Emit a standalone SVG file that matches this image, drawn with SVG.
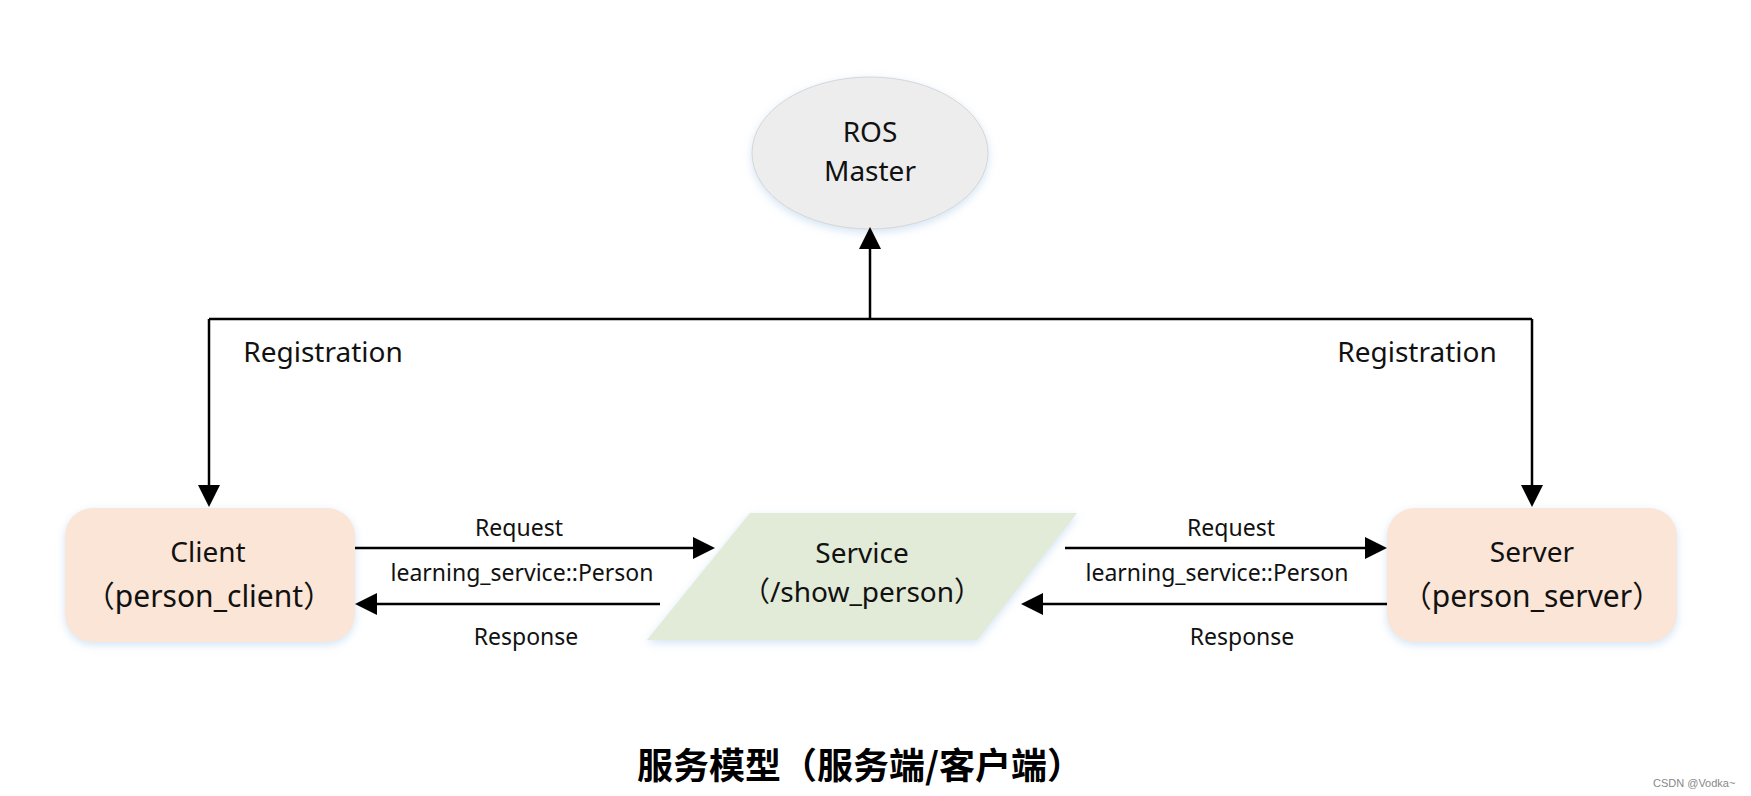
<svg xmlns="http://www.w3.org/2000/svg" width="1751" height="796" viewBox="0 0 1751 796">
<style>
  .lbl { font-family: "Noto Sans", "Open Sans", "Liberation Sans", "Noto Sans CJK SC", sans-serif; fill: #111; text-anchor: middle; }
  .node { font-size: 28px; }
  .node2 { font-size: 30px; }
  .edge { font-size: 23px; }
  .reg { font-size: 28px; }
  .conn { stroke: #000; stroke-width: 2.5; fill: none; }
  .title { font-family: "Noto Sans CJK SC", "Noto Sans", sans-serif; font-weight: bold; font-size: 36px; fill: #000; text-anchor: middle; }
  .wm { font-family: "Liberation Sans", "DejaVu Sans", sans-serif; font-size: 11px; fill: #888; }
</style>
<defs>
  <marker id="arr" viewBox="0 0 22 22" refX="10" refY="11" markerWidth="22" markerHeight="22" markerUnits="userSpaceOnUse" orient="auto">
    <path d="M0,0 L22,11 L0,22 z" fill="#000"/>
  </marker>
  <filter id="sh" x="-10%" y="-10%" width="120%" height="130%">
    <feDropShadow dx="0" dy="3" stdDeviation="4" flood-color="#9DC3E6" flood-opacity="0.45"/>
  </filter>
</defs>
<rect width="1751" height="796" fill="#fff"/>

<g id="master">
  <ellipse cx="870" cy="153" rx="118" ry="76" fill="#EDEDED" stroke="#D6D6D6" stroke-width="1" filter="url(#sh)"/>
  <text class="lbl node" x="870" y="142">ROS</text>
  <text class="lbl node" x="870" y="181">Master</text>
</g>

<g id="client">
  <rect x="65" y="508" width="290" height="134" rx="28" fill="#FBE5D6" filter="url(#sh)"/>
  <text class="lbl node" x="208" y="562">Client</text>
  <text class="lbl node2" x="209" y="607">（person_client）</text>
</g>

<g id="service">
  <polygon points="750,513 1077,513 977,640 647,640" fill="#E2EBD8" filter="url(#sh)"/>
  <text class="lbl node" x="862" y="563">Service</text>
  <text class="lbl node" x="862" y="602">（/show_person）</text>
</g>

<g id="server">
  <rect x="1387" y="508" width="290" height="134" rx="28" fill="#FBE5D6" filter="url(#sh)"/>
  <text class="lbl node" x="1532" y="562">Server</text>
  <text class="lbl node2" x="1532" y="607">（person_server）</text>
</g>

<g id="connectors">
  <path class="conn" d="M209,319 H1532"/>
  <path class="conn" d="M870,319 V239" marker-end="url(#arr)"/>
  <path class="conn" d="M209,319 V495" marker-end="url(#arr)"/>
  <path class="conn" d="M1532,319 V495" marker-end="url(#arr)"/>
  <path class="conn" d="M355,548 H703" marker-end="url(#arr)"/>
  <path class="conn" d="M660,604 H367" marker-end="url(#arr)"/>
  <path class="conn" d="M1065,548 H1375" marker-end="url(#arr)"/>
  <path class="conn" d="M1387,604 H1033" marker-end="url(#arr)"/>
  <text class="lbl reg" x="323" y="362">Registration</text>
  <text class="lbl reg" x="1417" y="362">Registration</text>
  <text class="lbl edge" x="519" y="536">Request</text>
  <text class="lbl edge" x="522" y="581">learning_service::Person</text>
  <text class="lbl edge" x="526" y="645">Response</text>
  <text class="lbl edge" x="1231" y="536">Request</text>
  <text class="lbl edge" x="1217" y="581">learning_service::Person</text>
  <text class="lbl edge" x="1242" y="645">Response</text>
</g>

<text class="title" x="860" y="779">服务模型（服务端/客户端）</text>
<text class="wm" x="1653" y="787">CSDN @Vodka~</text>
</svg>
